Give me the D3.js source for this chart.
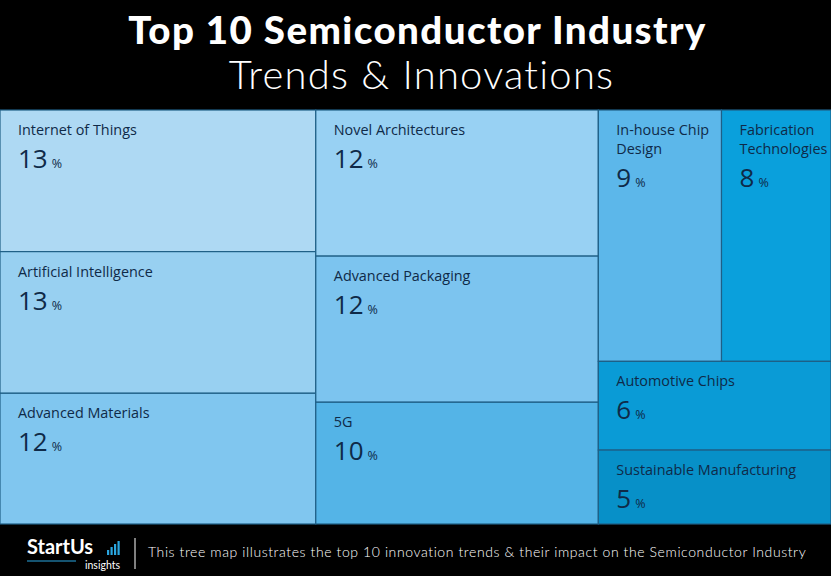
<!DOCTYPE html>
<html><head><meta charset="utf-8">
<script src="https://cdn.jsdelivr.net/npm/d3@7/dist/d3.min.js"></script>
<style>
html,body{margin:0;padding:0;background:#000;}
svg{display:block;}
</style></head>
<body>
<svg id="chart" width="831" height="576"></svg>
<script>
const groups = ["col1","col1","col1","col2","col2","col2","top3","top3","col3","col3"];
const categories = ["Internet of Things","Artificial Intelligence","Advanced Materials","Novel Architectures","Advanced Packaging","5G","In-house Chip Design","Fabrication Technologies","Automotive Chips","Sustainable Manufacturing"];
const values = [13,13,12,12,12,10,9,8,6,5];
const colors = ["#aed9f3","#98d0f1","#80c6ef","#98d1f3","#7cc4ef","#54b4e7","#5cb7ea","#0aa0dc","#0a9bd6","#0790c8"];
const titleText = "Top 10 Semiconductor Industry";
const subtitleText = "Trends & Innovations";
const footerText = "This tree map illustrates the top 10 innovation trends & their impact on the Semiconductor Industry";

const svg = d3.select("#chart");
const W = 831, H = 576;
svg.append("rect").attr("width",W).attr("height",H).attr("fill","#000");

const items = categories.map((c,i)=>({name:c,value:values[i],color:colors[i],group:groups[i]}));
const tree = {name:"root",children:[
  {name:"col1",children:items.filter(d=>d.group==="col1")},
  {name:"col2",children:items.filter(d=>d.group==="col2")},
  {name:"col3",children:[{name:"top3",children:items.filter(d=>d.group==="top3")}].concat(items.filter(d=>d.group==="col3"))}
]};
const root = d3.hierarchy(tree).sum(d=>d.children?0:d.value);
d3.treemap().tile(d3.treemapSliceDice).size([W,414]).paddingInner(0).round(false)(root);

const mapTop = 110;
const g = svg.append("g").attr("transform",`translate(0,${mapTop})`);
const leaves = root.leaves();
const cell = g.selectAll("g.cell").data(leaves).join("g").attr("class","cell")
  .attr("transform",d=>`translate(${d.x0},${d.y0})`);
cell.append("rect")
  .attr("width",d=>d.x1-d.x0).attr("height",d=>d.y1-d.y0)
  .attr("fill",d=>d.data.color).attr("stroke","#1f5f86").attr("stroke-width",1.2);

const ink = "#0f2a48";
const FF = "'Open Sans', sans-serif";
const LH = 18.5;
cell.each(function(d){
  const s = d3.select(this);
  const maxW = (d.x1-d.x0) - 20;
  const words = d.data.name.split(" ");
  const lineArr = [];
  let cur = [];
  const probe = s.append("text").style("font-family",FF).attr("font-size",14.4);
  words.forEach(w=>{
    const test = cur.concat([w]).join(" ");
    probe.text(test);
    if (probe.node().getComputedTextLength() > maxW && cur.length){
      lineArr.push(cur.join(" ")); cur=[w];
    } else cur.push(w);
  });
  lineArr.push(cur.join(" "));
  probe.remove();
  lineArr.forEach((ln,i)=>{
    s.append("text").attr("x",18).attr("y",25+i*LH)
      .style("font-family",FF).attr("font-size",14.4).attr("fill",ink).text(ln);
  });
  const ny = 58 + (lineArr.length-1)*LH;
  const n = s.append("text").attr("x",18).attr("y",ny)
    .style("font-family",FF).attr("fill",ink);
  n.append("tspan").attr("font-size",26).attr("font-weight",400).text(d.data.value);
  n.append("tspan").attr("font-size",12.5).attr("dx",4).text("%");
});

svg.append("text").attr("x",W/2+2).attr("y",44).attr("text-anchor","middle")
  .style("font-family","Lato, 'Open Sans', sans-serif").attr("font-weight",900)
  .attr("font-size",38.5).attr("letter-spacing",1.4).attr("fill","#fff").text(titleText);
svg.append("text").attr("x",W/2+6).attr("y",89).attr("text-anchor","middle")
  .style("font-family","Lato, 'Open Sans', sans-serif").attr("font-weight",300)
  .attr("font-size",40).attr("letter-spacing",1.2).attr("fill","#fff").text(subtitleText);

svg.append("text").attr("x",27).attr("y",554)
  .style("font-family","Lato, sans-serif").attr("font-weight",700).attr("font-size",20).attr("fill","#fff").text("StartUs");
const bars=[5,8,11,14];
bars.forEach((h,i)=>svg.append("rect").attr("x",107+i*3.5).attr("y",555-h).attr("width",2.2).attr("height",h).attr("fill","#2aa6e0"));
svg.append("line").attr("x1",27).attr("x2",76).attr("y1",561).attr("y2",561).attr("stroke","#2aa6e0").attr("stroke-width",1);
svg.append("text").attr("x",120).attr("y",569).attr("text-anchor","end")
  .style("font-family","Lato, sans-serif").attr("font-size",10.5).attr("fill","#fff").text("insights");
svg.append("line").attr("x1",135).attr("x2",135).attr("y1",538).attr("y2",569).attr("stroke","#fff").attr("stroke-width",1);
svg.append("text").attr("x",148).attr("y",557)
  .style("font-family","Lato, 'Open Sans', sans-serif").attr("font-weight",300).attr("font-size",14).attr("letter-spacing",0.6).attr("fill","#fff").text(footerText);
</script>
</body></html>
